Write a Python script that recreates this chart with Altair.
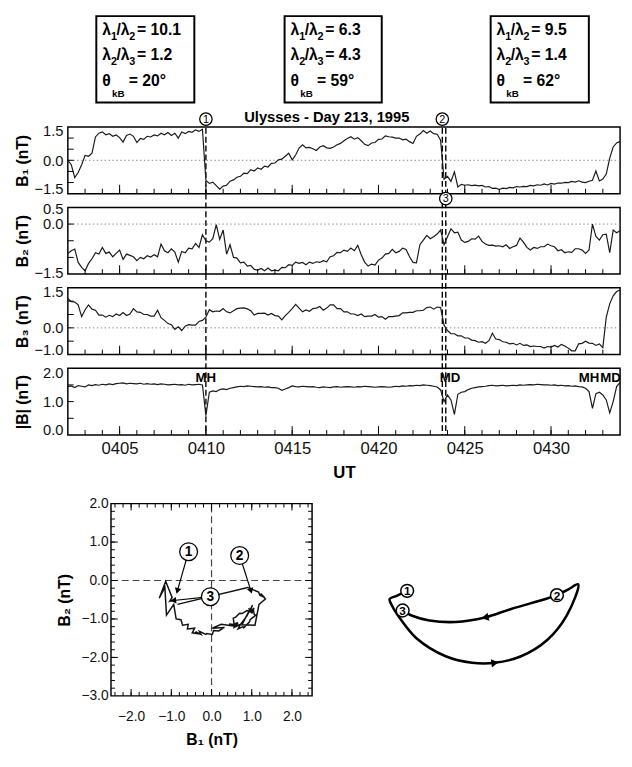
import math
import altair as alt
import pandas as pd

# ---------------- data (minutes after 04:00 UT, 0.2 min grid) ----------------
T_START, T_END, T_STEP = 2.0, 34.0, 0.2
TIME = [round(T_START + i * T_STEP, 1) for i in range(161)]

B1 = [0.0, -0.2, -0.78, -0.55, -0.2, 0.22, 0.18, 0.32, 1.05, 1.22,
      1.28, 1.15, 1.2, 1.08, 1.14, 1.02, 0.82, 1.12, 1.18, 1.08,
      0.8, 0.98, 0.94, 1.08, 1.05, 1.14, 1.1, 1.22, 1.15, 1.25,
      1.12, 1.22, 1.0, 1.27, 1.2, 1.3, 1.26, 1.37, 1.3, 1.4,
      -0.9, -1.04, -0.98, -1.14, -1.3, -1.16, -1.12, -0.94, -0.88, -0.76,
      -0.72, -0.58, -0.6, -0.42, -0.48, -0.34, -0.4, -0.26, -0.3, -0.14,
      -0.12, 0.02, 0.05, 0.18, 0.32, 0.02, 0.24, 0.55, 0.7, 0.56,
      0.58, 0.52, 0.44, 0.6, 0.66, 0.56, 0.54, 0.6, 0.7, 0.76,
      0.88, 0.98, 1.06, 0.95, 1.02, 0.88, 0.72, 0.66, 0.78, 0.8,
      0.94, 0.96, 1.1, 1.06, 1.04, 1.0, 1.0, 0.92, 0.95, 0.84,
      0.76, 1.08, 1.18, 1.34, 1.22, 1.32, 1.2, 1.17, 0.9, -0.85,
      -0.72, -0.95, -0.52, -1.2, -1.08, -1.12, -1.1, -1.14, -1.12, -1.15,
      -1.13, -1.2, -1.18, -1.26, -1.25, -1.31, -1.25, -1.27, -1.22, -1.24,
      -1.18, -1.2, -1.17, -1.18, -1.13, -1.15, -1.1, -1.12, -1.06, -1.11,
      -1.04, -1.07, -1.02, -1.03, -0.99, -1.0, -0.95, -0.98, -0.92, -0.98,
      -1.0, -0.94, -0.9, -0.48, -0.93, -0.84, -0.62, 0.1, 0.6, 0.78,
      0.85]

B2 = [-0.88, -0.8, -0.75, -1.15, -1.3, -1.4, -1.18, -1.04, -0.86, -0.9,
      -0.7, -0.88, -0.84, -0.98, -0.88, -0.78, -1.06, -0.9, -0.94, -0.98,
      -1.1, -1.0, -1.04, -0.95, -0.99, -0.92, -0.98, -0.6, -0.8, -0.86,
      -0.74, -0.84, -1.14, -0.82, -0.86, -0.72, -0.74, -0.58, -0.7, -0.32,
      -0.5, -0.54, -0.44, -0.02, -0.46, -0.18, -0.9, -0.62, -1.0, -1.02,
      -1.16, -1.14, -1.26, -1.24, -1.36, -1.38, -1.33, -1.4, -1.32, -1.4,
      -1.38, -1.4, -1.3, -1.31, -1.22, -1.24, -1.14, -1.18, -1.15, -1.22,
      -1.14, -1.18, -1.13, -1.15, -1.1, -1.13, -0.98, -0.95, -0.85, -0.86,
      -0.78, -0.82, -0.72, -0.8, -0.64, -0.92, -1.14, -1.26, -1.2, -1.23,
      -1.08, -1.02, -0.9, -0.88, -0.76, -0.86, -0.82, -0.72, -0.76, -0.98,
      -1.15, -1.16, -0.62, -0.48, -0.34, -0.44, -0.38, -0.3, -0.18, -0.62,
      -0.38, -0.14, -0.26, -0.24, -0.48, -0.55, -0.52, -0.44, -0.45, -0.36,
      -0.52, -0.6, -0.64, -0.63, -0.66, -0.65, -0.68, -0.62, -0.73, -0.68,
      -0.64, -0.42, -0.54, -0.7, -0.78, -0.7, -0.73, -0.68, -0.68, -0.6,
      -0.65, -0.68, -0.8, -0.77, -0.86, -0.83, -0.85, -0.74, -0.74, -0.78,
      -0.88, -0.78, 0.0, -0.37, -0.48, -0.32, -0.3, -0.86, -0.18, -0.26,
      -0.2]

B3 = [1.1, 0.98, 0.97, 0.86, 0.42, 0.68, 0.86, 0.7, 0.66, 0.48,
      0.48, 0.4, 0.47, 0.42, 0.52, 0.46, 0.57, 0.46, 0.52, 0.72,
      0.6, 0.58, 0.5, 0.5, 0.44, 0.44, 0.66, 0.38, 0.28, 0.16,
      0.12, -0.06, 0.04, -0.1, 0.06, 0.12, 0.1, 0.1, 0.24, 0.28,
      0.4, 0.68, 0.6, 0.63, 0.62, 0.72, 0.6, 0.56, 0.64, 0.72,
      0.74, 0.75, 0.71, 0.64, 0.48, 0.54, 0.54, 0.55, 0.48, 0.54,
      0.46, 0.44, 0.3, 0.46, 0.58, 0.72, 0.88, 0.74, 0.6, 0.67,
      0.62, 0.72, 0.74, 0.8, 0.66, 0.74, 0.86, 0.86, 0.72, 0.72,
      0.6, 0.6, 0.52, 0.52, 0.46, 0.52, 0.42, 0.44, 0.44, 0.5,
      0.4, 0.42, 0.32, 0.42, 0.42, 0.44, 0.46, 0.56, 0.56, 0.58,
      0.58, 0.64, 0.64, 0.66, 0.76, 0.78, 0.7, 0.78, 0.76, 0.1,
      -0.1, -0.22, -0.22, -0.3, -0.3, -0.38, -0.38, -0.46, -0.48, -0.54,
      -0.52, -0.58, -0.48, -0.2, -0.42, -0.44, -0.52, -0.54, -0.6, -0.58,
      -0.64, -0.58, -0.66, -0.64, -0.7, -0.68, -0.7, -0.7, -0.76, -0.7,
      -0.72, -0.66, -0.72, -0.62, -0.68, -0.76, -0.86, -0.86, -0.6, -0.58,
      -0.5, -0.57, -0.58, -0.66, -0.6, -0.74, 0.4, 0.9, 1.2, 1.36,
      1.42]

BMAG = [1.45, 1.47, 1.42, 1.48, 1.46, 1.44, 1.5, 1.48, 1.51, 1.49,
        1.52, 1.5, 1.53, 1.51, 1.54, 1.55, 1.56, 1.53, 1.55, 1.54,
        1.53, 1.55, 1.52, 1.54, 1.52, 1.53, 1.51, 1.53, 1.52, 1.5,
        1.51, 1.52, 1.5, 1.51, 1.49, 1.52, 1.5, 1.51, 1.52, 1.5,
        0.58, 1.28, 1.32, 1.3, 1.36, 1.38, 1.36, 1.4, 1.42, 1.44,
        1.46, 1.45, 1.47, 1.46, 1.45, 1.44, 1.45, 1.43, 1.44, 1.42,
        1.42, 1.4, 1.34, 1.38, 1.42, 1.47, 1.45, 1.44, 1.46, 1.45,
        1.44, 1.45, 1.43, 1.42, 1.44, 1.43, 1.42, 1.44, 1.45, 1.43,
        1.44, 1.45, 1.44, 1.43, 1.45, 1.44, 1.46, 1.45, 1.44, 1.43,
        1.44, 1.45, 1.44, 1.43, 1.44, 1.46, 1.45, 1.47, 1.46, 1.48,
        1.47, 1.49, 1.48, 1.5, 1.49, 1.48, 1.46, 1.44, 1.35, 1.0,
        1.2, 1.05, 0.62, 1.22, 1.28, 1.3, 1.36, 1.4, 1.42, 1.44,
        1.45, 1.46, 1.48, 1.49, 1.47, 1.48, 1.49, 1.47, 1.48, 1.49,
        1.48, 1.5, 1.49, 1.5, 1.51, 1.5, 1.52, 1.51, 1.5, 1.5,
        1.49, 1.5, 1.48, 1.49, 1.47, 1.48, 1.46, 1.47, 1.45, 1.44,
        1.4, 1.3, 0.8, 1.24, 1.28, 1.2, 1.05, 0.66, 1.0, 1.45,
        1.58]

EVENT_TIMES = [10.0, 23.7, 23.9]
EVENT_LABELS = ["1", "2", "3"]
X_TICK_VALUES = [5, 10, 15, 20, 25, 30]
X_TICK_LABELS = ["0405", "0410", "0415", "0420", "0425", "0430"]
MINUTE_TICKS = list(range(3, 34))
MARK_TIMES = [10.0, 24.15, 32.2, 33.45]
MARK_LABELS = ["MH", "MD", "MH", "MD"]

RATIO_12 = ["10.1", "6.3", "9.5"]
RATIO_23 = ["1.2", "4.3", "1.4"]
THETA_KB = ["20\u00b0", "59\u00b0", "62\u00b0"]

HODO_T_FROM, HODO_T_TO = 10.0, 23.8
HODO_LABELS = ["1", "2", "3"]
HODO_CIRCLE_X = [-0.57, 0.70, -0.03]
HODO_CIRCLE_Y = [0.75, 0.65, -0.42]
HODO_TIP_X = [-0.85, 0.98, -0.95]
HODO_TIP_Y = [-0.27, -0.27, -0.52]

# schematic (arbitrary units)
SCH_UPPER_X = [84.1, 78.6, 61.9, 49.2, 34.9, 22.2, 13.5, 9.2]
SCH_UPPER_Y = [31.6, 29.9, 25.5, 21.7, 19.7, 20.4, 22.6, 24.8]
SCH_OUTER_X = [11.4, 6.3, 2.9, 4.0, 8.0, 15.9, 30.1, 42.9, 54.0, 66.7, 79.4, 88.9, 94.4, 89.7, 84.1]
SCH_OUTER_Y = [33.5, 31.3, 29.9, 27.0, 21.2, 12.5, 4.5, 1.6, 1.6, 4.5, 11.7, 22.6, 36.4, 34.2, 31.6]
SCH_LABELS = ["1", "3", "2"]
SCH_CIRCLE_X = [11.4, 9.2, 84.1]
SCH_CIRCLE_Y = [33.5, 24.8, 31.6]

# ---------------- layout constants ----------------
FONT = "Liberation Sans"
W, H, GAP = 563, 68, 14
LEFT_ROOM = 60
PPM = W / (T_END - T_START)
BOX_T_LEFT = [3.65, 14.56, 26.5]
BOX_T_RIGHT = [9.33, 20.19, 32.19]
HX_RANGE = [44, 249]
HY_RANGE = [252, 56]
SX_RANGE = [322, 532]
SY_RANGE = [222, 130]

df = pd.DataFrame({"t": TIME, "b1": B1, "b2": B2, "b3": B3, "bm": BMAG})

x_scale = alt.Scale(domain=[T_START, T_END], nice=False, zero=False)
label_expr = ("[" + ",".join(f"'{s}'" for s in X_TICK_LABELS) + "][indexof(["
              + ",".join(str(v) for v in X_TICK_VALUES) + "], datum.value)]")
x_axis_bottom = alt.Axis(title="UT", values=X_TICK_VALUES, labelExpr=label_expr, ticks=False,
                         domain=False, grid=False, labelPadding=6, titlePadding=8,
                         labelFontSize=17, titleFontSize=17, labelFlush=False)


def y_axis(title, values, flush_offset=3):
    return alt.Axis(title=title, values=values, format=".1f", ticks=False, domain=False,
                    grid=False, labelPadding=5, minExtent=30, maxExtent=30, titlePadding=8,
                    labelFontSize=15, titleFontSize=16, labelFlush=True,
                    labelFlushOffset=flush_offset, labelOverlap=False)


def panel(field, title, domain, label_vals, tick_vals, zero=True, bottom=False,
          rule_top=-GAP, extra=None, flush_offset=3):
    ys = alt.Scale(domain=domain, nice=False, zero=False)
    ya = y_axis(title, label_vals, flush_offset)
    xa = x_axis_bottom if bottom else None

    def X(f):
        return alt.X(f"{f}:Q", scale=x_scale, axis=xa)

    def Y(f):
        return alt.Y(f"{f}:Q", scale=ys, axis=ya)

    layers = []
    if zero:
        layers.append(alt.Chart(pd.DataFrame({"v": [0.0]})).mark_rule(
            color="#8a8a8a", strokeDash=[1.5, 2.5], strokeWidth=1).encode(y=Y("v")))
    layers.append(alt.Chart(pd.DataFrame({"t": EVENT_TIMES})).mark_rule(
        color="black", strokeDash=[6, 3], strokeWidth=1.4).encode(
        x=X("t"), y=alt.value(rule_top), y2=alt.value(H)))
    layers.append(alt.Chart(df).mark_line(color="#1a1a1a", strokeWidth=1.2).encode(
        x=X("t"), y=Y(field)))
    layers.append(alt.Chart(pd.DataFrame({"t": MINUTE_TICKS})).mark_rule(
        color="black", strokeWidth=1).encode(x=X("t"), y=alt.value(H), y2=alt.value(H - 5)))
    layers.append(alt.Chart(pd.DataFrame({"t": X_TICK_VALUES})).mark_rule(
        color="black", strokeWidth=1).encode(x=X("t"), y=alt.value(H), y2=alt.value(H - 9)))
    layers.append(alt.Chart(pd.DataFrame({"v": tick_vals})).mark_rule(
        color="black", strokeWidth=1).encode(y=Y("v"), x=alt.value(0), x2=alt.value(6)))
    if extra is not None:
        layers.extend(extra(X, Y))
    return alt.layer(*layers).properties(width=W, height=H)


def circled(X, times, labels, ypix, size=160, fs=11):
    d = pd.DataFrame({"t": times, "lab": labels})
    c = alt.Chart(d).mark_circle(size=size, fill="white", stroke="black", strokeWidth=1.3,
                                 opacity=1).encode(x=X("t"), y=alt.value(ypix))
    t = alt.Chart(d).mark_text(fontSize=fs, font=FONT, color="black", baseline="middle",
                               dy=0.5).encode(x=X("t"), y=alt.value(ypix), text="lab:N")
    return [c, t]


def extra_p1(X, Y):
    out = circled(X, EVENT_TIMES[:2], EVENT_LABELS[:2], -8)
    out.append(alt.Chart(pd.DataFrame({"lab": ["Ulysses  -  Day 213, 1995"]})).mark_text(
        fontSize=15, fontWeight="bold", font=FONT, baseline="alphabetic").encode(
        x=alt.value(264), y=alt.value(-5), text="lab:N"))
    # invisible anchor fixing the left room of the whole figure
    out.append(alt.Chart(pd.DataFrame({"lab": [""]})).mark_rule(color="white", strokeWidth=0.5).encode(
        x=alt.value(-LEFT_ROOM), y=alt.value(20), y2=alt.value(21)))
    return out


def extra_p2(X, Y):
    return circled(X, EVENT_TIMES[2:], EVENT_LABELS[2:], -9)


def extra_p4(X, Y):
    d = pd.DataFrame({"t": MARK_TIMES, "lab": MARK_LABELS})
    return [alt.Chart(d).mark_text(fontSize=13.5, fontWeight="bold", font=FONT,
                                   baseline="alphabetic").encode(
        x=X("t"), y=alt.value(14.5), text="lab:N")]


p1 = panel("b1", "B\u2081 (nT)", [-1.5, 1.5], [1.5, 0.0, -1.5], [-1.0, -0.5, 0.0, 0.5, 1.0],
           rule_top=-8, extra=extra_p1)
p2 = panel("b2", "B\u2082 (nT)", [-1.5, 0.5], [0.5, 0.0, -1.5], [-1.0, -0.5, 0.0],
           extra=extra_p2, flush_offset=6)
p3 = panel("b3", "B\u2083 (nT)", [-1.0, 1.5], [1.5, 0.0, -1.0], [-0.5, 0.0, 0.5, 1.0])
p4 = panel("bm", "|B| (nT)", [0.0, 2.0], [2.0, 1.0, 0.0], [0.5, 1.0, 1.5], zero=False,
           bottom=True, extra=extra_p4)

# ---------------- parameter boxes ----------------
rows = []
for b in range(3):
    left = BOX_T_LEFT[b] + 6 / PPM
    lines = [
        (20, [("\u03bb", 0, 0, 16), ("1", 9, 5, 11), ("/\u03bb", 14.5, 0, 16),
              ("2", 27.5, 5, 11), ("= " + RATIO_12[b], 35.5, 0, 16)]),
        (46, [("\u03bb", 0, 0, 16), ("2", 9, 5, 11), ("/\u03bb", 14.5, 0, 16),
              ("3", 27.5, 5, 11), ("= " + RATIO_23[b], 35.5, 0, 16)]),
        (72, [("\u03b8", 0, 0, 16), ("kB", 10, 11, 10), ("= " + THETA_KB[b], 27, 0, 16)]),
    ]
    for base, pieces in lines:
        for txt, xo, yo, fs in pieces:
            rows.append({"tx": left + xo / PPM, "yb": base + yo, "txt": txt, "fs": fs})
box_text = pd.DataFrame(rows)
box_rect = pd.DataFrame({"tl": BOX_T_LEFT, "tr": BOX_T_RIGHT})
yb_scale = alt.Scale(domain=[0, 100], range=[0, 100], nice=False, zero=False)

boxes = alt.layer(
    alt.Chart(box_rect).mark_rect(fill="white", stroke="black", strokeWidth=2).encode(
        x=alt.X("tl:Q", scale=x_scale, axis=None), x2="tr:Q",
        y=alt.value(1), y2=alt.value(89)),
    alt.Chart(box_text).mark_text(font=FONT, fontWeight="bold", align="left",
                                  baseline="alphabetic", color="black").encode(
        x=alt.X("tx:Q", scale=x_scale, axis=None),
        y=alt.Y("yb:Q", scale=yb_scale, axis=None),
        size=alt.Size("fs:Q", scale=None, legend=None),
        text="txt:N"),
).properties(width=W, height=100, view=alt.ViewBackground(stroke=None))

# ---------------- hodogram ----------------
hx = alt.Scale(domain=[-2.5, 2.5], range=HX_RANGE, nice=False, zero=False)
hy = alt.Scale(domain=[-3.0, 2.0], range=HY_RANGE, nice=False, zero=False)
hxa = alt.Axis(title="B\u2081 (nT)", values=[-2, -1, 0, 1, 2], format=".1f", ticks=False,
               domain=False, grid=False, labelPadding=14, titlePadding=9, labelFontSize=14,
               titleFontSize=16, labelFlush=False)
hya = alt.Axis(title="B\u2082 (nT)", values=[-3, -2, -1, 0, 1, 2], format=".1f", ticks=False,
               domain=False, grid=False, labelPadding=3, titlePadding=9, labelFontSize=14,
               titleFontSize=16, offset=-HX_RANGE[0], labelFlush=False)


def HX(f):
    return alt.X(f"{f}:Q", scale=hx, axis=hxa)


def HY(f):
    return alt.Y(f"{f}:Q", scale=hy, axis=hya)


hx_minor = [round(-2.4 + 0.2 * i, 1) for i in range(25)]
hy_minor = [round(-2.8 + 0.2 * i, 1) for i in range(24)]
hx_major = [-2.0, -1.0, 0.0, 1.0, 2.0]
hy_major = [-2.0, -1.0, 0.0, 1.0]

hodo_layers = [
    alt.Chart(pd.DataFrame({"a": [-2.5], "b": [2.5], "c": [-3.0], "d": [2.0]})).mark_rect(
        fill="transparent", stroke="black", strokeWidth=1.5).encode(
        x=HX("a"), x2="b:Q", y=HY("c"), y2="d:Q"),
    alt.Chart(pd.DataFrame({"x": [0.0], "y1": [-3.0], "y2": [2.0]})).mark_rule(
        color="#444", strokeDash=[7, 4], strokeWidth=1.2).encode(x=HX("x"), y=HY("y1"), y2="y2:Q"),
    alt.Chart(pd.DataFrame({"y": [0.0], "x1": [-2.5], "x2": [2.5]})).mark_rule(
        color="#444", strokeDash=[7, 4], strokeWidth=1.2).encode(y=HY("y"), x=HX("x1"), x2="x2:Q"),
]
for vals, ln in ((hx_minor, 4), (hx_major, 7)):
    d = pd.DataFrame({"x": vals})
    hodo_layers.append(alt.Chart(d).mark_rule(color="black", strokeWidth=1).encode(
        x=HX("x"), y=alt.value(HY_RANGE[0]), y2=alt.value(HY_RANGE[0] - ln)))
    hodo_layers.append(alt.Chart(d).mark_rule(color="black", strokeWidth=1).encode(
        x=HX("x"), y=alt.value(HY_RANGE[1]), y2=alt.value(HY_RANGE[1] + ln)))
for vals, ln in ((hy_minor, 4), (hy_major, 7)):
    d = pd.DataFrame({"y": vals})
    hodo_layers.append(alt.Chart(d).mark_rule(color="black", strokeWidth=1).encode(
        y=HY("y"), x=alt.value(HX_RANGE[0]), x2=alt.value(HX_RANGE[0] + ln)))
    hodo_layers.append(alt.Chart(d).mark_rule(color="black", strokeWidth=1).encode(
        y=HY("y"), x=alt.value(HX_RANGE[1]), x2=alt.value(HX_RANGE[1] - ln)))

df_h = df[(df.t >= HODO_T_FROM) & (df.t <= HODO_T_TO)]
hodo_layers.append(alt.Chart(df_h).mark_line(color="#111", strokeWidth=1.5).encode(
    x=HX("b1"), y=HY("b2"), order="t:Q"))

HPX_X = (HX_RANGE[1] - HX_RANGE[0]) / 5.0
HPX_Y = (HY_RANGE[0] - HY_RANGE[1]) / 5.0


def head_angle(dx, dy, sx, sy):
    return (math.degrees(math.atan2(dx * sx, dy * sy)) + 360) % 360


arr = pd.DataFrame({"x0": HODO_CIRCLE_X, "y0": HODO_CIRCLE_Y, "x1": HODO_TIP_X,
                    "y1": HODO_TIP_Y, "lab": HODO_LABELS})
arr["ang"] = [head_angle(a - c, b - d, HPX_X, HPX_Y)
              for a, b, c, d in zip(arr.x1, arr.y1, arr.x0, arr.y0)]
hodo_layers += [
    alt.Chart(arr).mark_rule(color="black", strokeWidth=1.2).encode(
        x=HX("x0"), y=HY("y0"), x2="x1:Q", y2="y1:Q"),
    alt.Chart(arr).mark_point(shape="triangle-up", filled=True, color="black", size=45,
                              opacity=1).encode(
        x=HX("x1"), y=HY("y1"), angle=alt.Angle("ang:Q", scale=None)),
    alt.Chart(arr).mark_circle(size=330, fill="white", stroke="black", strokeWidth=1.3,
                               opacity=1).encode(x=HX("x0"), y=HY("y0")),
    alt.Chart(arr).mark_text(fontSize=14, font=FONT, fontWeight="bold", baseline="middle",
                             dy=0.5).encode(x=HX("x0"), y=HY("y0"), text="lab:N"),
]
hodo = alt.layer(*hodo_layers)

# ---------------- schematic ----------------
sxs = alt.Scale(domain=[0, 100], range=SX_RANGE, nice=False, zero=False)
sys_ = alt.Scale(domain=[0, 40], range=SY_RANGE, nice=False, zero=False)


def SX(f):
    return alt.X(f"{f}:Q", scale=sxs, axis=None)


def SY(f):
    return alt.Y(f"{f}:Q", scale=sys_, axis=None)


sch_rows = ([{"path": "upper", "i": i, "x": x, "y": y}
             for i, (x, y) in enumerate(zip(SCH_UPPER_X, SCH_UPPER_Y))] +
            [{"path": "outer", "i": i, "x": x, "y": y}
             for i, (x, y) in enumerate(zip(SCH_OUTER_X, SCH_OUTER_Y))])
sch = pd.DataFrame(sch_rows)
SPX_X = (SX_RANGE[1] - SX_RANGE[0]) / 100.0
SPX_Y = (SY_RANGE[0] - SY_RANGE[1]) / 40.0
heads = pd.DataFrame({
    "x": [SCH_UPPER_X[3], SCH_OUTER_X[8]],
    "y": [SCH_UPPER_Y[3], SCH_OUTER_Y[8]],
    "ang": [head_angle(SCH_UPPER_X[4] - SCH_UPPER_X[2], SCH_UPPER_Y[4] - SCH_UPPER_Y[2], SPX_X, SPX_Y),
            head_angle(SCH_OUTER_X[9] - SCH_OUTER_X[7], SCH_OUTER_Y[9] - SCH_OUTER_Y[7], SPX_X, SPX_Y)],
})
sc = pd.DataFrame({"x": SCH_CIRCLE_X, "y": SCH_CIRCLE_Y, "lab": SCH_LABELS})
schem = alt.layer(
    alt.Chart(sch).mark_line(color="black", strokeWidth=2.6, interpolate="catmull-rom").encode(
        x=SX("x"), y=SY("y"), detail="path:N", order="i:Q"),
    alt.Chart(heads).mark_point(shape="triangle-up", filled=True, color="black", size=70,
                                opacity=1).encode(
        x=SX("x"), y=SY("y"), angle=alt.Angle("ang:Q", scale=None)),
    alt.Chart(sc).mark_circle(size=170, fill="white", stroke="black", strokeWidth=1.5,
                              opacity=1).encode(x=SX("x"), y=SY("y")),
    alt.Chart(sc).mark_text(fontSize=12, font=FONT, fontWeight="bold", baseline="middle",
                            dy=0.5).encode(x=SX("x"), y=SY("y"), text="lab:N"),
)

bottom = alt.layer(hodo, schem).resolve_scale(x="independent", y="independent").properties(
    width=W, height=HY_RANGE[0], view=alt.ViewBackground(stroke=None))

chart = alt.vconcat(boxes, p1, p2, p3, p4, bottom, spacing=GAP, bounds="flush").resolve_scale(
    x="independent", y="independent").properties(
    padding={"left": 0, "top": 0, "right": 0, "bottom": 0}
).configure(font=FONT).configure_view(stroke="black", strokeWidth=1.5).configure_axis(
    labelFont=FONT, titleFont=FONT, labelColor="#111", titleColor="black",
    titleFontWeight="bold", labelFontWeight="normal")

chart.save("out.html", embed_options={"renderer": "svg", "actions": False})
